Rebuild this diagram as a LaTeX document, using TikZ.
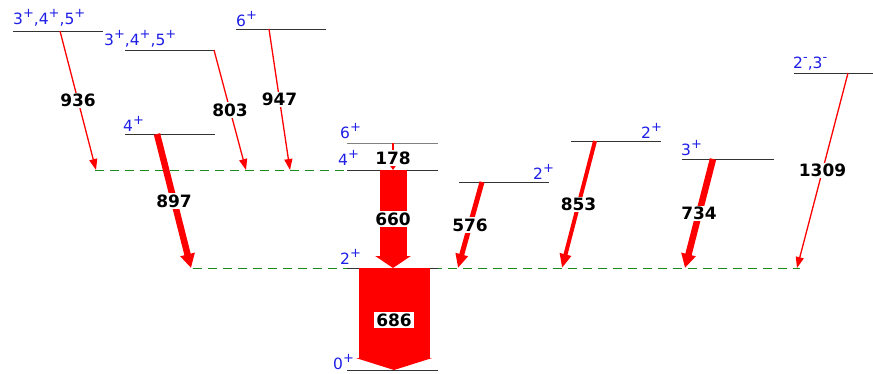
\documentclass[tikz,border=0pt]{standalone}
\usepackage{fontspec}
\setmainfont{DejaVu Sans}
\usetikzlibrary{arrows.meta}
\definecolor{lvlgreen}{HTML}{1A8A1A}
\definecolor{spinblue}{HTML}{1E1EE6}
\newcommand{\spn}[2]{#1\raisebox{0.42em}{\fontsize{13}{13}\selectfont #2}}
\tikzset{
  lvl/.style={draw=black!80, line width=0.8pt},
  reflvl/.style={draw=lvlgreen, line width=0.8pt, dash pattern=on 9pt off 6pt},
  spin/.style={text=spinblue, font=\fontsize{15.5}{18}\selectfont, inner sep=0pt},
  gam/.style n args={3}{draw=red, line width=#1, -{Triangle[width=#2,length=#3]}},
  glab/.style={fill=white, inner sep=1.2pt, text=black,
    font=\fontsize{17}{20}\selectfont\bfseries},
}

\begin{document}
\begin{tikzpicture}[x=1pt, y=-1pt]
  \useasboundingbox (0,0) rectangle (873,373);
  % reference levels
  \draw[reflvl] (95,170) -- (347,170);
  \draw[reflvl] (193,268) -- (800,268);
  % levels
  \draw[lvl] (13,31) -- (103,31);
  \draw[lvl] (125,50) -- (215,50);
  \draw[lvl] (236,29) -- (326,29);
  \draw[lvl] (125,134) -- (215,134);
  \draw[lvl, draw=black!50] (347,143) -- (438,143);
  \draw[lvl] (347,170) -- (438,170);
  \draw[lvl] (347,268) -- (438,268);
  \draw[lvl] (347,370) -- (438,370);
  \draw[lvl] (459,182) -- (549,182);
  \draw[lvl] (571,141) -- (661,141);
  \draw[lvl] (682,159) -- (774,159);
  \draw[lvl] (794,73) -- (873,73);

  \node[spin, anchor=base west] (jA) at (13,24) {\spn{3}{+},\spn{4}{+},\spn{5}{+}};
  \node[spin, anchor=base west] (jB) at (104,45) {\spn{3}{+},\spn{4}{+},\spn{5}{+}};
  \node[spin, anchor=base west] (jC) at (236,26) {\spn{6}{+}};
  \node[spin, anchor=base west] (jD) at (123,131) {\spn{4}{+}};
  \node[spin, anchor=base west] (j6) at (340,138) {\spn{6}{+}};
  \node[spin, anchor=base west] (j4) at (338,165) {\spn{4}{+}};
  \node[spin, anchor=base west] (j2) at (340,264) {\spn{2}{+}};
  \node[spin, anchor=base west] (j0) at (333,369) {\spn{0}{+}};
  \node[spin, anchor=base west] (jE) at (533,179) {\spn{2}{+}};
  \node[spin, anchor=base west] (jF) at (641,138) {\spn{2}{+}};
  \node[spin, anchor=base west] (jG) at (681,155) {\spn{3}{+}};
  \node[spin, anchor=base west] (jH) at (793,68) {\spn{2}{-},\spn{3}{-}};

  % transition end points
  \coordinate (s936) at (60,31);   \coordinate (e936) at (96,170);
  \coordinate (s803) at (214,50);  \coordinate (e803) at (246,170);
  \coordinate (s947) at (269,29);  \coordinate (e947) at (290,170);
  \coordinate (s897) at (157,134); \coordinate (e897) at (191,268);
  \coordinate (s178) at (393,143); \coordinate (e178) at (393,170);
  \coordinate (s660) at (393,170); \coordinate (e660) at (393,268);
  \coordinate (s686) at (394,268); \coordinate (e686) at (394,370);
  \coordinate (s576) at (482,182); \coordinate (e576) at (458,268);
  \coordinate (s853) at (595,141); \coordinate (e853) at (562,268);
  \coordinate (s734) at (713,159); \coordinate (e734) at (685,268);
  \coordinate (s1309) at (848,73); \coordinate (e1309) at (797,268);

  \draw[gam={1.3pt}{8pt}{11pt}] (s936) -- node[glab] {936} (e936);
  \draw[gam={1.3pt}{8pt}{11pt}] (s803) -- node[glab] {803} (e803);
  \draw[gam={1.3pt}{8pt}{11pt}] (s947) -- node[glab] {947} (e947);
  \draw[gam={6.5pt}{14pt}{14pt}] (s897) -- node[glab] {897} (e897);
  \draw[gam={1.3pt}{8pt}{6pt}] (s178) -- node[glab, pos=0.56] {178} (e178);
  \draw[gam={27pt}{35pt}{12pt}] (s660) -- node[glab] {660} (e660);
  \draw[gam={71pt}{76pt}{12pt}] (s686) -- node[glab, inner sep=2pt, yshift=-1pt] {686} (e686);
  \draw[gam={5pt}{12pt}{14pt}] (s576) -- node[glab] {576} (e576);
  \draw[gam={4pt}{11pt}{14pt}] (s853) -- node[glab] {853} (e853);
  \draw[gam={6.5pt}{14pt}{14pt}] (s734) -- node[glab] {734} (e734);
  \draw[gam={1.3pt}{8pt}{11pt}] (s1309) -- node[glab] {1309} (e1309);
\end{tikzpicture}
\end{document}
